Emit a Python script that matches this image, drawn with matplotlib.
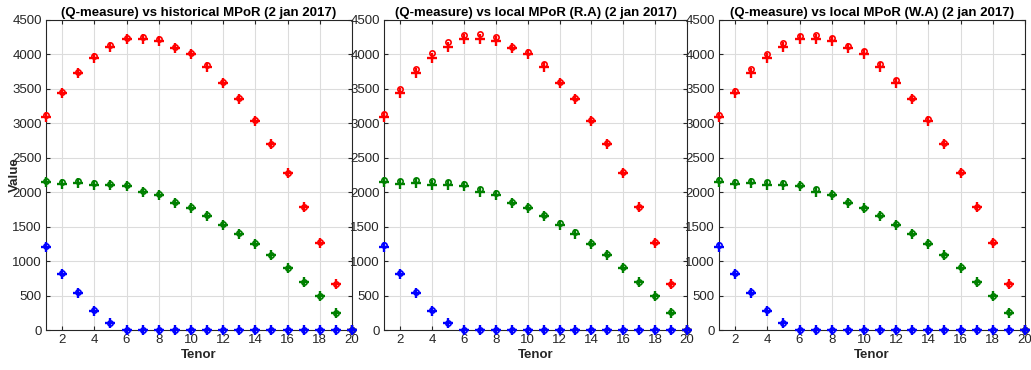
import numpy as np
import matplotlib
matplotlib.use('Agg')
import matplotlib.pyplot as plt

plt.rcParams['font.family'] = ['Liberation Sans', 'DejaVu Sans']

# ======================  data  ======================
tenor = np.arange(1, 21)

# Q-measure ('+' markers), same in all three panels
q_red = [3095, 3435, 3725, 3955, 4105, 4220, 4230, 4200, 4090, 4005,
         3820, 3590, 3350, 3040, 2695, 2275, 1785, 1270, 670, 0]
q_green = [2150, 2125, 2140, 2110, 2100, 2085, 2005, 1960, 1845, 1765,
           1655, 1530, 1400, 1255, 1085, 900, 700, 490, 250, 0]
q_blue = [1210, 810, 540, 275, 95, 0, 0, 0, 0, 0,
          0, 0, 0, 0, 0, 0, 0, 0, 0, 0]

# historical MPoR ('o')
hist_red = [3115, 3460, 3750, 3980, 4130, 4240, 4250, 4220, 4105, 4020,
            3840, 3605, 3365, 3055, 2705, 2285, 1790, 1275, 672, 0]
hist_green = [2170, 2145, 2160, 2130, 2120, 2100, 2020, 1975, 1860, 1780,
              1670, 1545, 1410, 1265, 1092, 905, 702, 493, 252, 0]
hist_blue = [1225, 825, 550, 285, 100, 0, 0, 0, 0, 0,
             0, 0, 0, 0, 0, 0, 0, 0, 0, 0]

# local MPoR (R.A) ('o')
ra_red = [3135, 3495, 3790, 4015, 4185, 4285, 4295, 4255, 4110, 4040,
          3855, 3605, 3370, 3055, 2710, 2290, 1790, 1275, 672, 0]
ra_green = [2177, 2163, 2172, 2163, 2148, 2119, 2046, 1984, 1862, 1781,
            1674, 1548, 1422, 1267, 1100, 915, 702, 493, 255, 0]
ra_blue = [1230, 835, 555, 290, 105, 0, 0, 0, 0, 0,
           0, 0, 0, 0, 0, 0, 0, 0, 0, 0]

# local MPoR (W.A) ('o')
wa_red = [3120, 3473, 3782, 4005, 4160, 4273, 4287, 4243, 4117, 4045,
          3856, 3628, 3372, 3062, 2710, 2298, 1790, 1275, 672, 0]
wa_green = [2172, 2155, 2165, 2150, 2135, 2112, 2040, 1980, 1860, 1778,
            1670, 1545, 1415, 1265, 1095, 915, 703, 493, 255, 0]
wa_blue = [1228, 832, 552, 288, 103, 0, 0, 0, 0, 0,
           0, 0, 0, 0, 0, 0, 0, 0, 0, 0]

titles = ['(Q-measure) vs historical MPoR (2 jan 2017)',
          '(Q-measure) vs local MPoR (R.A) (2 jan 2017)',
          '(Q-measure) vs local MPoR (W.A) (2 jan 2017)']
mpor = [(hist_red, hist_green, hist_blue),
        (ra_red, ra_green, ra_blue),
        (wa_red, wa_green, wa_blue)]

colors = ['#ff0000', '#008000', '#0000ff']
axcol = '#262626'

fig = plt.figure(figsize=(10.31, 3.70), dpi=100)
boxes = [[0.0446, 0.108, 0.2968, 0.838],
         [0.3725, 0.108, 0.2940, 0.838],
         [0.6974, 0.108, 0.2968, 0.838]]

for i in range(3):
    ax = fig.add_axes(boxes[i])
    for q, o, c in zip((q_red, q_green, q_blue), mpor[i], colors):
        ax.plot(tenor, q, '+', color=c, markersize=7, mew=1.7, clip_on=False, zorder=3)
        ax.plot(tenor, o, 'o', color=c, markersize=3.8, mew=1.2, mfc='none', clip_on=False, zorder=3)
    ax.set_xlim(1, 20)
    ax.set_ylim(0, 4500)
    ax.set_xticks(np.arange(2, 21, 2))
    ax.set_yticks(np.arange(0, 4501, 500))
    ax.grid(True, color='#dcdcdc', linewidth=0.8)
    ax.set_axisbelow(True)
    ax.tick_params(direction='in', top=True, right=True, labelsize=9.5,
                   colors=axcol, length=3, pad=3)
    for s in ax.spines.values():
        s.set_color(axcol)
        s.set_linewidth(0.8)
    ax.set_title(titles[i], fontsize=9.5, fontweight='bold', color='black', pad=3)
    ax.set_xlabel('Tenor', fontsize=9.5, fontweight='bold', color=axcol, labelpad=2)
    if i == 0:
        ax.set_ylabel('Value', fontsize=9.5, fontweight='bold', color=axcol, labelpad=-6)

fig.savefig('out.png', dpi=100)
